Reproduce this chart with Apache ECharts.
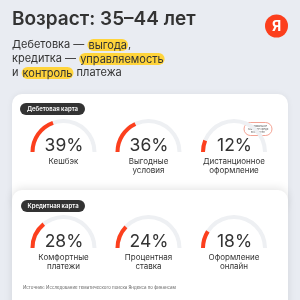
<!DOCTYPE html>
<html><head><meta charset="utf-8">
<script src="https://cdn.jsdelivr.net/npm/echarts@6/dist/echarts.min.js"></script>
<style>html,body{margin:0;padding:0;background:#e9ecf2}#c{width:300px;height:300px}</style>
</head><body><div id="c"></div>
<script>
var debitLabels = ['Кешбэк', 'Выгодные\nусловия', 'Дистанционное\nоформление'];
var debitValues = [39, 36, 12];
var creditLabels = ['Комфортные\nплатежи', 'Процентная\nставка', 'Оформление\nонлайн'];
var creditValues = [28, 24, 18];
var titleText = 'Возраст: 35–44 лет';
var sourceText = 'Источник: Исследование тематического поиска Яндекса по финансам';
var noteText = 'Минимальное\nзначение среди\nвсех групп';

var FONT = 'Inter, Roboto, sans-serif';
var RED = '#fc3f1d';
var colX = [63.5, 148.5, 234];

function gauge(cx, cy, value, label) {
  var lines = label.split('\n').length;
  return {
    type: 'gauge', center: [cx, cy], radius: 33,
    startAngle: 180, endAngle: 0, min: 0, max: 100,
    pointer: {show: false}, axisTick: {show: false}, splitLine: {show: false}, axisLabel: {show: false},
    axisLine: {lineStyle: {width: 4, color: [[1, '#eef0f3']]}},
    progress: {show: true, width: 4, itemStyle: {color: RED}},
    anchor: {show: false},
    title: {offsetCenter: [0, lines > 1 ? 14 : 10], fontSize: 8, color: '#333', fontFamily: FONT, lineHeight: 9},
    detail: {offsetCenter: [0.5, -6], formatter: '{value}%', fontSize: 17.5, color: '#333', fontFamily: FONT, fontWeight: 400},
    data: [{value: value, name: label}]
  };
}

var series = [];
debitValues.forEach(function (v, i) { series.push(gauge(colX[i], 152, v, debitLabels[i])); });
creditValues.forEach(function (v, i) { series.push(gauge(colX[i], 248, v, creditLabels[i])); });

var chart = echarts.init(document.getElementById('c'), null, {renderer: 'canvas'});
chart.setOption({
  backgroundColor: '#e9ecf2',
  animation: false,
  graphic: [
    {type: 'text', left: 12, top: 10, style: {text: titleText, font: '600 19px ' + FONT, fill: '#333'}},
    {type: 'circle', shape: {cx: 276.5, cy: 26, r: 11.5}, style: {fill: RED}},
    {type: 'text', x: 276.5, y: 26.5, style: {text: 'Я', font: '700 14px ' + FONT, fill: '#fff', align: 'center', verticalAlign: 'middle'}},
    {type: 'text', left: 12, top: 39, style: {
      text: '{n|Дебетовка — }{h|выгода}{n|,}\n{n|кредитка — }{h|управляемость}\n{n|и }{h|контроль}{n| платежа}',
      rich: {
        n: {fontSize: 11, fontFamily: FONT, fill: '#333', lineHeight: 14},
        h: {fontSize: 11, fontFamily: FONT, fill: '#333', lineHeight: 14, backgroundColor: '#ffd43b', borderRadius: 6, padding: [1, 1, 0, 1]}
      }
    }},
    {type: 'rect', shape: {x: 12, y: 94, width: 276, height: 120, r: 10}, style: {fill: '#fff', shadowBlur: 6, shadowColor: 'rgba(0,0,0,0.06)'}},
    {type: 'rect', shape: {x: 20, y: 103, width: 65, height: 12, r: 6}, style: {fill: '#333'}},
    {type: 'text', x: 52.5, y: 109.3, style: {text: 'Дебетовая карта', font: '600 6px ' + FONT, fill: '#fff', align: 'center', verticalAlign: 'middle'}},
    {type: 'rect', shape: {x: 244, y: 122.5, width: 28, height: 13, r: 6.5}, style: {fill: '#fff', stroke: '#f08b78', lineWidth: 0.8}},
    {type: 'text', x: 258, y: 129.2, style: {text: noteText, font: '2.6px ' + FONT, fill: '#555', align: 'center', verticalAlign: 'middle', lineHeight: 3.2}},
    {type: 'rect', shape: {x: 12, y: 190, width: 276, height: 130, r: 10}, style: {fill: '#fff', shadowBlur: 8, shadowColor: 'rgba(0,0,0,0.10)', shadowOffsetY: -2}},
    {type: 'rect', shape: {x: 21, y: 200, width: 64, height: 12, r: 6}, style: {fill: '#333'}},
    {type: 'text', x: 53, y: 206.3, style: {text: 'Кредитная карта', font: '600 6px ' + FONT, fill: '#fff', align: 'center', verticalAlign: 'middle'}},
    {type: 'text', x: 23, y: 288, style: {text: sourceText, font: '4.4px ' + FONT, fill: '#666', verticalAlign: 'middle'}}
  ],
  series: series
});
</script></body></html>
